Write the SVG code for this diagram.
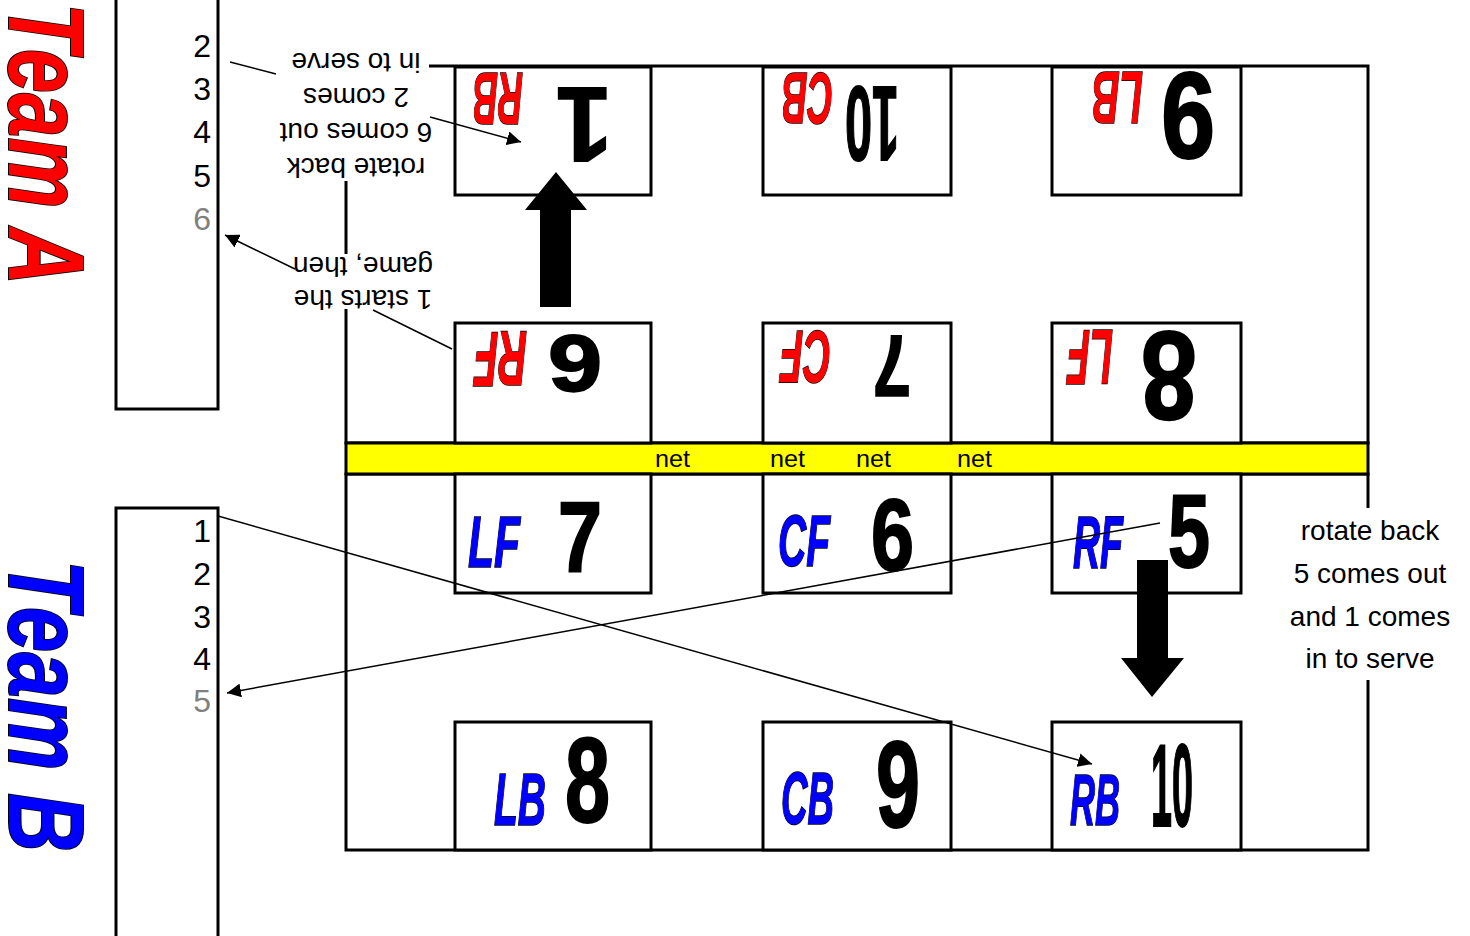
<svg xmlns="http://www.w3.org/2000/svg" width="1470" height="936" viewBox="0 0 1470 936">
<defs>
<style>
.frame{fill:none;stroke:#000;stroke-width:3}
.box{fill:#fff;stroke:#000;stroke-width:3}
.wb{fill:#fff;stroke:none}
.team{font-family:"Liberation Sans",Arial,sans-serif;font-weight:bold;font-style:italic;stroke:#000;stroke-width:2;paint-order:stroke}
.lbl{font-family:"Liberation Sans",Arial,sans-serif;font-weight:bold;font-style:italic;stroke:#000;stroke-width:1.5;paint-order:stroke}
.red{fill:#f00}
.blue{fill:#00f}
.num{font-family:"Liberation Sans",Arial,sans-serif;font-weight:bold;fill:#000;stroke:#000;stroke-width:2}
.lst{font-family:"Liberation Sans",Arial,sans-serif;font-size:32px;fill:#000;text-anchor:end}
.gray{fill:#808080}
.txt{font-family:"Liberation Sans",Arial,sans-serif;font-size:28px;fill:#000;text-anchor:middle}
.net{font-family:"Liberation Sans",Arial,sans-serif;font-size:23px;fill:#000}
.ln{stroke:#000;stroke-width:1.5;fill:none}
.blk{fill:#000;stroke:none}
</style>
<marker id="ah" viewBox="0 0 10 10" refX="10" refY="5" markerWidth="14" markerHeight="14" markerUnits="userSpaceOnUse" orient="auto">
<path d="M0,0 L10,5 L0,10 z" fill="#000"/>
</marker>
</defs>
<rect width="1470" height="936" fill="#fff"/>

<g id="team-a-title">
<text class="team red" font-size="107" transform="translate(9,3) rotate(90)" x="0" y="0" textLength="282" lengthAdjust="spacingAndGlyphs">Team A</text>
</g>
<g id="team-b-title">
<text class="team blue" font-size="107" transform="translate(9,560) rotate(90)" x="0" y="0" textLength="292" lengthAdjust="spacingAndGlyphs">Team B</text>
</g>

<g id="team-a-list">
<rect class="frame" x="116" y="-10" width="102" height="419"/>
<text class="lst" x="211" y="57">2</text>
<text class="lst" x="211" y="100">3</text>
<text class="lst" x="211" y="143">4</text>
<text class="lst" x="211" y="187">5</text>
<text class="lst gray" x="211" y="230">6</text>
</g>
<g id="team-b-list">
<rect class="frame" x="116" y="508" width="102" height="440"/>
<text class="lst" x="211" y="542">1</text>
<text class="lst" x="211" y="585">2</text>
<text class="lst" x="211" y="628">3</text>
<text class="lst" x="211" y="670">4</text>
<text class="lst gray" x="211" y="712">5</text>
</g>

<g id="court-a">
<rect class="frame" x="346" y="66" width="1022" height="377"/>
</g>
<g id="court-b">
<rect class="frame" x="346" y="474" width="1022" height="376"/>
</g>
<g id="net">
<rect x="346" y="443" width="1022" height="31" fill="#ff0" stroke="#000" stroke-width="3"/>
<text class="net" x="655" y="467" textLength="35" lengthAdjust="spacingAndGlyphs">net</text>
<text class="net" x="770" y="467" textLength="35" lengthAdjust="spacingAndGlyphs">net</text>
<text class="net" x="856" y="467" textLength="35" lengthAdjust="spacingAndGlyphs">net</text>
<text class="net" x="957" y="467" textLength="35" lengthAdjust="spacingAndGlyphs">net</text>
</g>

<!-- Team A positions (upside down) -->
<g id="a-rb">
<rect class="box" x="455" y="67" width="196" height="128"/>
<text class="lbl red" font-size="75" x="473" y="127" textLength="50" lengthAdjust="spacingAndGlyphs" transform="rotate(180 498 100)">RB</text>
<text class="num" font-size="105" x="560" y="163" textLength="56" lengthAdjust="spacingAndGlyphs" transform="rotate(180 586 125.5)">1</text>
</g>
<g id="a-cb">
<rect class="box" x="763" y="67" width="188" height="128"/>
<text class="lbl red" font-size="73" x="782" y="125" textLength="51" lengthAdjust="spacingAndGlyphs" transform="rotate(180 807.5 99)">CB</text>
<text class="num" font-size="106" x="845" y="163" textLength="54" lengthAdjust="spacingAndGlyphs" transform="rotate(180 872 125)">10</text>
</g>
<g id="a-lb">
<rect class="box" x="1052" y="67" width="189" height="128"/>
<text class="lbl red" font-size="74" x="1092" y="125" textLength="51" lengthAdjust="spacingAndGlyphs" transform="rotate(180 1117.5 98.5)">LB</text>
<text class="num" font-size="122" x="1163" y="160" textLength="54" lengthAdjust="spacingAndGlyphs" transform="rotate(180 1189 116.5)">9</text>
</g>
<g id="a-rf">
<rect class="box" x="455" y="323" width="196" height="120"/>
<text class="lbl red" font-size="77" x="474" y="387" textLength="53" lengthAdjust="spacingAndGlyphs" transform="rotate(180 500.5 359.5)">RF</text>
<text class="num" font-size="80" x="548" y="393" textLength="54" lengthAdjust="spacingAndGlyphs" transform="rotate(180 575 364.5)">6</text>
</g>
<g id="a-cf">
<rect class="box" x="763" y="323" width="188" height="120"/>
<text class="lbl red" font-size="74" x="780" y="384" textLength="51" lengthAdjust="spacingAndGlyphs" transform="rotate(180 805.5 357.5)">CF</text>
<text class="num" font-size="87" x="874" y="398" textLength="38" lengthAdjust="spacingAndGlyphs" transform="rotate(180 892.5 367)">7</text>
</g>
<g id="a-lf">
<rect class="box" x="1052" y="323" width="189" height="120"/>
<text class="lbl red" font-size="77" x="1067" y="385" textLength="46" lengthAdjust="spacingAndGlyphs" transform="rotate(180 1090 357.5)">LF</text>
<text class="num" font-size="127" x="1141" y="423" textLength="56" lengthAdjust="spacingAndGlyphs" transform="rotate(180 1169 377.5)">8</text>
</g>

<!-- Team B positions -->
<g id="b-lf">
<rect class="box" x="455" y="474" width="196" height="119"/>
<text class="lbl blue" font-size="73" x="468" y="567" textLength="52" lengthAdjust="spacingAndGlyphs">LF</text>
<text class="num" font-size="100" x="558" y="572" textLength="44" lengthAdjust="spacingAndGlyphs">7</text>
</g>
<g id="b-cf">
<rect class="box" x="763" y="474" width="188" height="119"/>
<text class="lbl blue" font-size="73" x="778" y="566" textLength="52" lengthAdjust="spacingAndGlyphs">CF</text>
<text class="num" font-size="102" x="871" y="570" textLength="43" lengthAdjust="spacingAndGlyphs">6</text>
</g>
<g id="b-rf">
<rect class="box" x="1052" y="474" width="189" height="119"/>
<text class="lbl blue" font-size="74" x="1073" y="568" textLength="50" lengthAdjust="spacingAndGlyphs">RF</text>
<text class="num" font-size="103" x="1168" y="567" textLength="42" lengthAdjust="spacingAndGlyphs">5</text>
</g>
<g id="b-lb">
<rect class="box" x="455" y="722" width="196" height="128"/>
<text class="lbl blue" font-size="75" x="494" y="825" textLength="52" lengthAdjust="spacingAndGlyphs">LB</text>
<text class="num" font-size="121" x="565" y="822" textLength="45" lengthAdjust="spacingAndGlyphs">8</text>
</g>
<g id="b-cb">
<rect class="box" x="763" y="722" width="188" height="128"/>
<text class="lbl blue" font-size="74" x="781" y="824" textLength="53" lengthAdjust="spacingAndGlyphs">CB</text>
<text class="num" font-size="123" x="876" y="827" textLength="44" lengthAdjust="spacingAndGlyphs">9</text>
</g>
<g id="b-rb">
<rect class="box" x="1052" y="722" width="189" height="128"/>
<text class="lbl blue" font-size="73" x="1070" y="825" textLength="50" lengthAdjust="spacingAndGlyphs">RB</text>
<text class="num" font-size="117" x="1151" y="826" textLength="42" lengthAdjust="spacingAndGlyphs">10</text>
</g>

<!-- callout texts -->
<g id="note-a-top">
<rect class="wb" x="276" y="40" width="153" height="141"/>
<g transform="rotate(180 356 113)">
<text class="txt" x="356" y="68">rotate back</text>
<text class="txt" x="356" y="103">6 comes out</text>
<text class="txt" x="356" y="138">2 comes</text>
<text class="txt" x="356" y="173">in to serve</text>
</g>
</g>
<g id="note-a-start">
<rect class="wb" x="290" y="254" width="150" height="55"/>
<g transform="rotate(180 363 280)">
<text class="txt" x="363" y="270">1 starts the</text>
<text class="txt" x="363" y="303">game, then</text>
</g>
</g>
<g id="note-b">
<rect class="wb" x="1280" y="508" width="180" height="172"/>
<text class="txt" x="1370" y="540">rotate back</text>
<text class="txt" x="1370" y="583">5 comes out</text>
<text class="txt" x="1370" y="626">and 1 comes</text>
<text class="txt" x="1370" y="668">in to serve</text>
</g>

<g id="connectors">
<line class="ln" x1="230" y1="62" x2="276" y2="74"/>
<line class="ln" x1="430" y1="117" x2="521" y2="142" marker-end="url(#ah)"/>
<line class="ln" x1="295" y1="269" x2="225" y2="235" marker-end="url(#ah)"/>
<line class="ln" x1="373" y1="310" x2="452" y2="349"/>
<line class="ln" x1="218" y1="516" x2="1092" y2="764" marker-end="url(#ah)"/>
<line class="ln" x1="1160" y1="523" x2="227" y2="693" marker-end="url(#ah)"/>
<polygon class="blk" points="540,307 571,307 571,210 587,210 556,172 525,210 540,210"/>
<polygon class="blk" points="1137,560 1168,560 1168,658 1184,658 1152,697 1121,658 1137,658"/>
</g>
</svg>
